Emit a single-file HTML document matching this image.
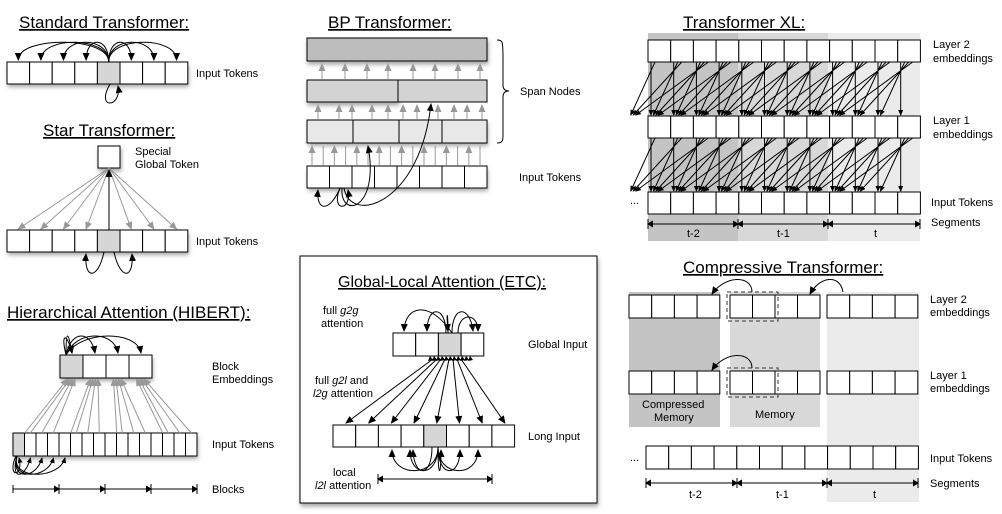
<!DOCTYPE html>
<html><head><meta charset="utf-8">
<style>
html,body{margin:0;padding:0;background:#fff;}
svg{display:block;font-family:"Liberation Sans",Arial,sans-serif;}
.t{font-size:17px;text-decoration:underline;}
.l{font-size:11px;}
</style></head>
<body>
<svg id="s" width="1002" height="514" viewBox="0 0 1002 514" xmlns="http://www.w3.org/2000/svg">
<defs>
<marker id="ab" markerWidth="8" markerHeight="8" refX="7" refY="4" orient="auto" markerUnits="userSpaceOnUse"><path d="M0,0.5 L8,4 L0,7.5 z" fill="#000"/></marker>
<marker id="abs" markerWidth="8" markerHeight="8" refX="1" refY="4" orient="auto" markerUnits="userSpaceOnUse"><path d="M8,0.5 L0,4 L8,7.5 z" fill="#000"/></marker>
<marker id="ag" markerWidth="8" markerHeight="8" refX="7" refY="4" orient="auto" markerUnits="userSpaceOnUse"><path d="M0,0.5 L8,4 L0,7.5 z" fill="#999"/></marker>
<marker id="as" markerWidth="6" markerHeight="6" refX="5" refY="3" orient="auto" markerUnits="userSpaceOnUse"><path d="M0,0.5 L6,3 L0,5.5 z" fill="#000"/></marker>
<marker id="bar" markerWidth="6" markerHeight="10" refX="5" refY="5" orient="auto" markerUnits="userSpaceOnUse"><path d="M0,2 L5,5 L0,8 z M5,0 L5,10" fill="#000" stroke="#000" stroke-width="1"/></marker>
<filter id="sh" x="-10%" y="-10%" width="130%" height="160%"><feDropShadow dx="1" dy="3" stdDeviation="2" flood-color="#000" flood-opacity="0.35"/></filter>
</defs>
<rect x="648" y="33" width="90" height="208" fill="#c4c4c4"/>
<rect x="738" y="33" width="90" height="208" fill="#d8d8d8"/>
<rect x="828" y="33" width="92" height="208" fill="#ebebeb"/>
<rect x="629" y="292" width="91" height="135" fill="#c4c4c4"/>
<rect x="730" y="292" width="90" height="135" fill="#d8d8d8"/>
<rect x="827" y="292" width="92" height="210" fill="#ebebeb"/>
<rect x="300" y="256" width="297" height="247" fill="#fff" stroke="#000" stroke-width="1" filter="url(#sh)"/>

<g id="g"></g>

<text class="t" x="19" y="28">Standard Transformer:</text>
<text class="l" x="196" y="77">Input Tokens</text>
<text class="t" x="43" y="136">Star Transformer:</text>
<text class="l" x="135" y="155">Special</text>
<text class="l" x="135" y="168">Global Token</text>
<text class="l" x="196" y="245">Input Tokens</text>
<text class="t" x="7" y="318">Hierarchical Attention (HIBERT):</text>
<text class="l" x="212" y="370">Block</text>
<text class="l" x="212" y="383">Embeddings</text>
<text class="l" x="212" y="448">Input Tokens</text>
<text class="l" x="212" y="493">Blocks</text>

<text class="t" x="328" y="28">BP Transformer:</text>
<text class="l" x="520" y="95">Span Nodes</text>
<text class="l" x="519" y="181">Input Tokens</text>

<text class="t" x="338" y="287" style="font-size:16px">Global-Local Attention (ETC):</text>
<text class="l" x="323" y="314">full <tspan font-style="italic">g2g</tspan></text>
<text class="l" x="321" y="327">attention</text>
<text class="l" x="315" y="384">full <tspan font-style="italic">g2l</tspan> and</text>
<text class="l" x="313" y="397"><tspan font-style="italic">l2g</tspan> attention</text>
<text class="l" x="333" y="476">local</text>
<text class="l" x="315" y="489"><tspan font-style="italic">l2l</tspan> attention</text>
<text class="l" x="528" y="348">Global Input</text>
<text class="l" x="528" y="440">Long Input</text>

<text class="t" x="683" y="28">Transformer XL:</text>
<text class="l" x="933" y="48">Layer 2</text>
<text class="l" x="933" y="62">embeddings</text>
<text class="l" x="933" y="124">Layer 1</text>
<text class="l" x="933" y="138">embeddings</text>
<text class="l" x="931" y="206">Input Tokens</text>
<text class="l" x="931" y="226">Segments</text>
<text class="l" x="630" y="204">...</text>
<text class="l" x="687" y="237">t-2</text>
<text class="l" x="777" y="237">t-1</text>
<text class="l" x="874" y="237">t</text>

<text class="t" x="683" y="273">Compressive Transformer:</text>
<text class="l" x="930" y="303">Layer 2</text>
<text class="l" x="930" y="316">embeddings</text>
<text class="l" x="930" y="379">Layer 1</text>
<text class="l" x="930" y="392">embeddings</text>
<text class="l" x="930" y="462">Input Tokens</text>
<text class="l" x="930" y="487">Segments</text>
<text class="l" x="630" y="461">...</text>
<text class="l" x="642" y="408">Compressed</text>
<text class="l" x="654" y="421">Memory</text>
<text class="l" x="755" y="418">Memory</text>
<text class="l" x="689" y="498">t-2</text>
<text class="l" x="776" y="498">t-1</text>
<text class="l" x="873" y="498">t</text>
</svg>
<script>
var G=document.getElementById('g'),h='';
function rect(x,y,w,hh,f,extra){h+='<rect x="'+x+'" y="'+y+'" width="'+w+'" height="'+hh+'" fill="'+(f||'#fff')+'" stroke="#000" stroke-width="1" '+(extra||'')+'/>';}
function row(x,y,n,w,hh,gray,shadow){
  if(shadow)h+='<rect x="'+x+'" y="'+y+'" width="'+(n*w)+'" height="'+hh+'" fill="#fff" filter="url(#sh)"/>';
  for(var i=0;i<n;i++)rect(x+i*w,y,w,hh,(gray&&gray.indexOf(i)>=0)?'#d6d6d6':'#fff');}
function ln(x1,y1,x2,y2,c,m,sw,ms){h+='<line x1="'+x1+'" y1="'+y1+'" x2="'+x2+'" y2="'+y2+'" stroke="'+(c||'#000')+'" stroke-width="'+(sw||1)+'"'+(m?' marker-end="url(#'+m+')"':'')+(ms?' marker-start="url(#'+ms+')"':'')+'/>';}
function pth(d,c,m,extra){h+='<path d="'+d+'" fill="none" stroke="'+(c||'#000')+'" stroke-width="1"'+(m?' marker-end="url(#'+m+')"':'')+(extra||'')+'/>';}
var w=22.6;
row(7,62,8,w,22,[4],true);
for(var i=0;i<8;i++){if(i==4)continue;var tx=7+i*w+w/2, sx=7+4*w+w/2;
 pth('M'+sx+',62 C'+sx+',36 '+tx+',36 '+tx+',60','#000','ab');}
pth('M110,84 C95,110 122,108 118,86','#000','ab');
row(7,230,8,w,22,[4],true);
rect(98,146,22,22,'#fff','filter="url(#sh)"');
for(var i=0;i<8;i++){if(i==4)continue;var tx=7+i*w+w/2;ln(109,168,tx,229,'#999','ag');}
ln(109,230,109,170,'#000','ab');
pth('M104,252 C98,280 84,280 86,254','#000','ab');
pth('M114,252 C120,280 134,280 132,254','#000','ab');
row(60,355,4,23,23,[0],true);
var tw=11.5;row(13,433,16,tw,23,[0],true);
for(var b=0;b<4;b++){var bx=60+b*23+11.5;for(var k=0;k<4;k++){var tx=13+(b*4+k)*tw+tw/2+(k==0?6:0);ln(tx,433,bx-4+k*2.5,379,'#999','ag');}}
[72,95,118,141].forEach(function(t,i){pth('M66,355 C'+(66+i*5)+',330 '+(t-4)+',330 '+t+',353','#000','ab');});
pth('M66,355 C60,330 68,335 72,353','#000','ab');
for(var k=0;k<4;k++){var tx=19+(k+1)*tw;pth('M17,456 C10,480 '+(tx-6)+',480 '+tx+',458','#000','as');}
pth('M16,456 C6,478 24,478 19,458','#000','as');
for(var b=0;b<4;b++){ln(13+b*46,489,13+(b+1)*46,489,'#000','bar');h+='<line x1="'+(13+b*46)+'" y1="485" x2="'+(13+b*46)+'" y2="493" stroke="#000"/>';}
rect(307,38,180,23,'#bdbdbd','filter="url(#sh)"');
rect(307,80,91,22,'#d3d3d3','filter="url(#sh)"');rect(398,80,89,22,'#d3d3d3');
h+='<rect x="307" y="120" width="180" height="23" fill="#e8e8e8" filter="url(#sh)"/>';
rect(307,120,46,23,'#e8e8e8');rect(353,120,46,23,'#e8e8e8');rect(399,120,43,23,'#e8e8e8');rect(442,120,45,23,'#e8e8e8');
row(307,166,8,22.5,22,null,true);
[322,345,367,388,413,435,458,480].forEach(function(x){ln(x,79,x,64,'#999','ag');});
[318,339,352,372,388,403,417,438,454,467,482].forEach(function(x){ln(x,119,x,105,'#999','ag');});
for(var i=0;i<16;i++){var x=312+i*11.2;ln(x,165,x,146,'#999',(i%2==0)?'ag':null);}
pth('M340,188 C330,212 316,212 318,190','#000','ab');
pth('M340,188 C330,212 352,212 348,190','#000','ab');
pth('M342,188 C340,220 380,210 368,146','#000','ab');
pth('M344,188 C350,225 420,205 431,104','#000','ab');
pth('M497,40 C503,40 503,42 503,60 L503,85 C503,90 506,91 509,91 C506,91 503,92 503,97 L503,136 C503,142 501,143 497,143','#000');
// ETC
row(393,333,4,22.7,23,[2],false);
row(333,425,8,22.7,22,[4],false);
pth('M446,333 C446,305 427,305 427,331','#000','ab');
pth('M448,333 C448,310 446,310 448,331','#000','ab');
pth('M452,333 C452,305 470,305 473,331','#000','ab');
pth('M452,333 C430,300 405,305 404,331','#000','ab');
pth('M458,333 C458,312 478,312 478,331','#000','ab');
for(var i=0;i<8;i++){var tx=333+i*22.7+13;ln(433+i*4,359,tx,423,'#000','ab',null);}
for(var i=0;i<11;i++){h+='<path d="M'+(428+i*4)+',361 l2,-5 l3,4 z" fill="#000"/>';}
[392,410,441,460,478].forEach(function(t){pth('M438,447 C438,478 '+t+',478 '+t+',450','#000','ab');});
pth('M432,447 C432,478 414,478 413,450','#000','ab');
ln(378,479,492,479,'#000','bar');pth('M386,479 L378,479','#000','bar');
// XL
var xw=22.7;
row(648,40,12,xw,22);row(648,116,12,xw,22);row(648,192,12,xw,22);
function fan(ytop,ybot){for(var j=0;j<12;j++){for(var k=0;k<4;k++){var sx=648+j*xw+3+k*4;var tx=648+(j-k)*xw+3+k*2.5;if(tx<620)continue;ln(sx,ytop,tx,ybot,'#000','as');}}}
fan(62,115);fan(138,191);
[[648,738],[738,828],[828,920]].forEach(function(s){ln(s[0],224,s[1],224,'#000','bar');ln(s[1],224,s[0],224,'#000','bar');});
// Compressive
row(629,295,4,22.7,23);row(730,295,4,22.5,23);row(827,295,4,22.7,23);
row(629,371,4,22.7,23);row(730,371,4,22.5,23);row(827,371,4,22.7,23);
h+='<rect x="727" y="292" width="51" height="29" fill="none" stroke="#333" stroke-dasharray="4,3"/>';
h+='<rect x="727" y="368" width="51" height="29" fill="none" stroke="#333" stroke-dasharray="4,3"/>';
pth('M752,292 C752,275 725,275 712,294','#000','ab');
pth('M752,368 C752,351 725,351 712,370','#000','ab');
pth('M843,292 C840,274 820,276 810,294','#000','ab');
row(646,446,12,22.7,23);
[[646,737],[737,827],[827,918]].forEach(function(s){ln(s[0],483,s[1],483,'#000','bar');ln(s[1],483,s[0],483,'#000','bar');});
G.innerHTML=h;
</script>
</body></html>
